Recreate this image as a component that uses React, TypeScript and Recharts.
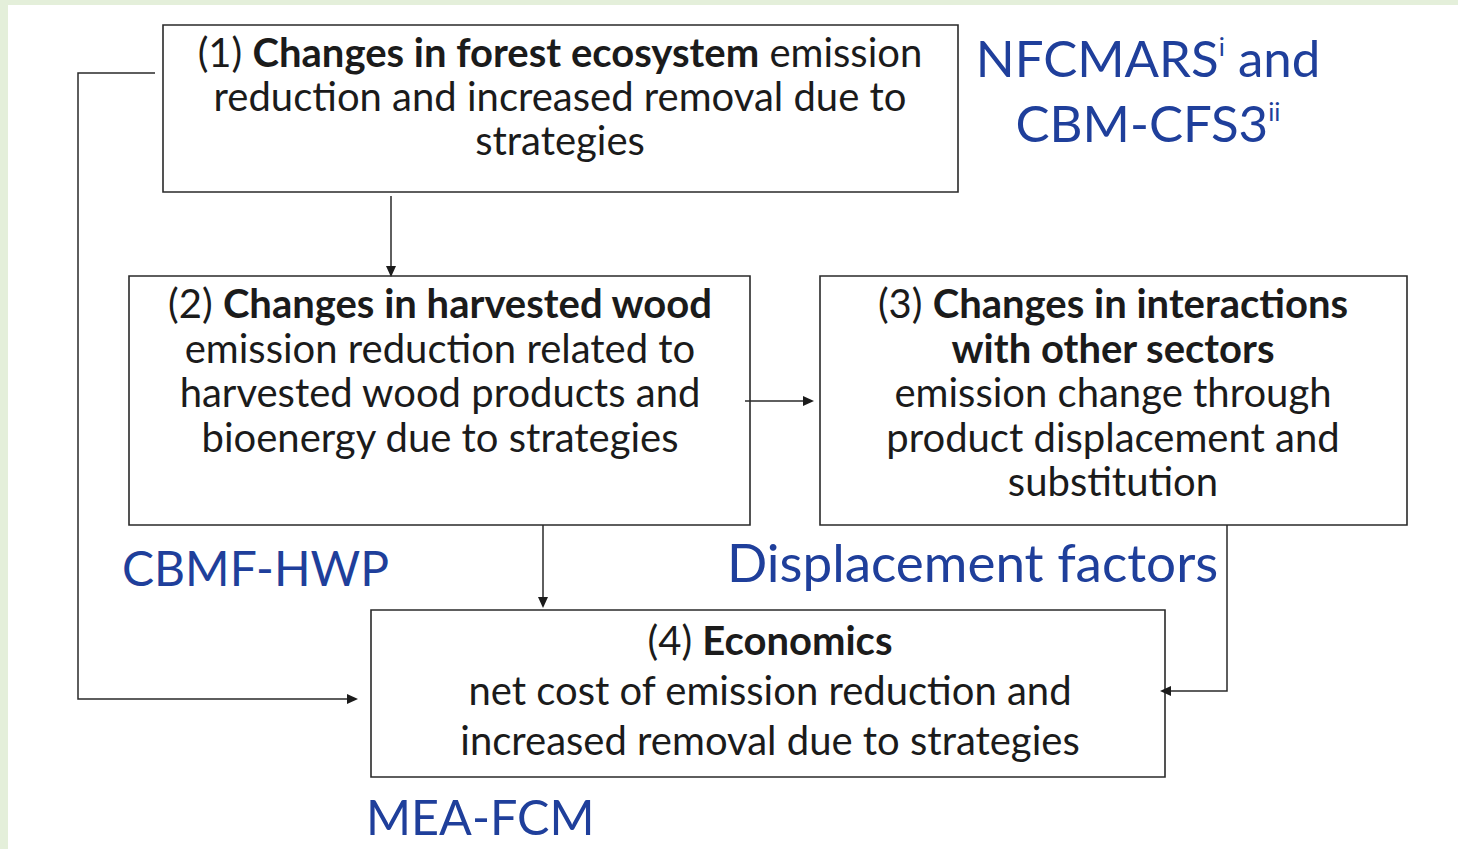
import { ComposedChart, XAxis, YAxis, ReferenceArea, Line, Scatter } from "recharts";

type Run = { text: string; bold?: boolean; sup?: boolean };

const W = 1458;
const H = 849;
const FONT = "Lato, 'Open Sans', sans-serif";
const INK = "#1b1b1b";
const BLUE = "#1f3f9b";

// box texts
const box1Text: Run[][] = [
  [{ text: "(1) " }, { text: "Changes in forest ecosystem", bold: true }, { text: " emission" }],
  [{ text: "reduction and increased removal due to" }],
  [{ text: "strategies" }],
];
const box2Text: Run[][] = [
  [{ text: "(2) " }, { text: "Changes in harvested wood", bold: true }],
  [{ text: "emission reduction related to" }],
  [{ text: "harvested wood products and" }],
  [{ text: "bioenergy due to strategies" }],
];
const box3Text: Run[][] = [
  [{ text: "(3) " }, { text: "Changes in interactions", bold: true }],
  [{ text: "with other sectors", bold: true }],
  [{ text: "emission change through" }],
  [{ text: "product displacement and" }],
  [{ text: "substitution" }],
];
const box4Text: Run[][] = [
  [{ text: "(4) " }, { text: "Economics", bold: true }],
  [{ text: "net cost of emission reduction and" }],
  [{ text: "increased removal due to strategies" }],
];

// model labels
const modelText1: Run[][] = [
  [{ text: "NFCMARS" }, { text: "i", sup: true }, { text: " and" }],
  [{ text: "CBM-CFS3" }, { text: "ii", sup: true }],
];
const modelText2: Run[][] = [[{ text: "CBMF-HWP" }]];
const modelText3: Run[][] = [[{ text: "Displacement factors" }]];
const modelText4: Run[][] = [[{ text: "MEA-FCM" }]];

// layout (pixel domain)
const boxes = [
  { id: "b1", x1: 163, x2: 958, y1: 25, y2: 192 },
  { id: "b2", x1: 129, x2: 750, y1: 276, y2: 525 },
  { id: "b3", x1: 820, x2: 1407, y1: 276, y2: 525 },
  { id: "b4", x1: 371, x2: 1165, y1: 610, y2: 777 },
];

const connectors = [
  [{ x: 155, y: 73 }, { x: 78, y: 73 }, { x: 78, y: 699 }, { x: 347, y: 699 }],
  [{ x: 391, y: 196 }, { x: 391, y: 266 }],
  [{ x: 745, y: 401 }, { x: 803, y: 401 }],
  [{ x: 543, y: 525 }, { x: 543, y: 597 }],
  [{ x: 1227, y: 525 }, { x: 1227, y: 691 }, { x: 1170, y: 691 }],
];

const arrowHeads = [
  { x: 391, y: 277, dir: "down" },
  { x: 814, y: 401, dir: "right" },
  { x: 543, y: 608, dir: "down" },
  { x: 1160, y: 691, dir: "left" },
  { x: 358, y: 699, dir: "right" },
];

const textBlocks = [
  { x: 560, y: 67, lines: box1Text, size: 40, gap: 44, color: INK, anchor: "middle" },
  { x: 440, y: 318, lines: box2Text, size: 40, gap: 44.5, color: INK, anchor: "middle" },
  { x: 1113, y: 318, lines: box3Text, size: 40, gap: 44.5, color: INK, anchor: "middle" },
  { x: 770, y: 655, lines: box4Text, size: 40, gap: 50, color: INK, anchor: "middle" },
  { x: 1148, y: 77, lines: modelText1, size: 51, gap: 65, color: BLUE, anchor: "middle" },
  { x: 122, y: 586, lines: modelText2, size: 48, gap: 0, color: BLUE, anchor: "start" },
  { x: 727, y: 582, lines: modelText3, size: 53, gap: 0, color: BLUE, anchor: "start" },
  { x: 366, y: 835, lines: modelText4, size: 48.5, gap: 0, color: BLUE, anchor: "start" },
];

function ArrowHead(props: any) {
  const { cx, cy, payload } = props;
  const L = 11;
  const h = 5;
  let pts = "";
  if (payload.dir === "down") pts = `${cx - h},${cy - L} ${cx + h},${cy - L} ${cx},${cy}`;
  if (payload.dir === "right") pts = `${cx - L},${cy - h} ${cx - L},${cy + h} ${cx},${cy}`;
  if (payload.dir === "left") pts = `${cx + L},${cy - h} ${cx + L},${cy + h} ${cx},${cy}`;
  return <polygon points={pts} fill={INK} />;
}

function TextBlock(props: any) {
  const { cx, cy, payload } = props;
  const b = payload;
  return (
    <g>
      {b.lines.map((line: Run[], i: number) => (
        <text
          key={i}
          x={cx}
          y={cy + i * b.gap}
          textAnchor={b.anchor}
          fontFamily={FONT}
          fontSize={b.size}
          fill={b.color}
        >
          {line.map((r, j) => {
            const prevSup = j > 0 && line[j - 1].sup;
            const dy = r.sup ? -b.size * 0.42 : prevSup ? b.size * 0.42 : 0;
            return (
              <tspan
                key={j}
                dy={dy}
                fontWeight={r.bold ? 700 : 400}
                fontSize={r.sup ? b.size * 0.5 : b.size}
              >
                {r.text}
              </tspan>
            );
          })}
        </text>
      ))}
    </g>
  );
}

export default function App() {
  return (
    <div style={{ position: "absolute", left: 0, top: 0, width: W, height: H, background: "#e4efda" }}>
      <div style={{ position: "absolute", left: 8, top: 5, right: 0, bottom: 0, background: "#ffffff" }} />
      <div style={{ position: "absolute", left: 0, top: 0 }}>
        <ComposedChart width={W} height={H} margin={{ top: 0, right: 0, bottom: 0, left: 0 }}>
          <XAxis type="number" dataKey="x" domain={[0, W]} hide allowDataOverflow />
          <YAxis type="number" dataKey="y" domain={[0, H]} reversed hide allowDataOverflow />
          {boxes.map((b) => (
            <ReferenceArea
              key={b.id}
              x1={b.x1}
              x2={b.x2}
              y1={b.y1}
              y2={b.y2}
              fill="none"
              stroke="#2a2a2a"
              strokeWidth={1.6}
              ifOverflow="visible"
            />
          ))}
          {connectors.map((c, i) => (
            <Line
              key={i}
              data={c}
              dataKey="y"
              type="linear"
              stroke="#2a2a2a"
              strokeWidth={1.5}
              dot={false}
              activeDot={false}
              isAnimationActive={false}
            />
          ))}
          <Scatter data={arrowHeads} dataKey="y" shape={ArrowHead} isAnimationActive={false} />
          <Scatter data={textBlocks} dataKey="y" shape={TextBlock} isAnimationActive={false} />
        </ComposedChart>
      </div>
    </div>
  );
}
